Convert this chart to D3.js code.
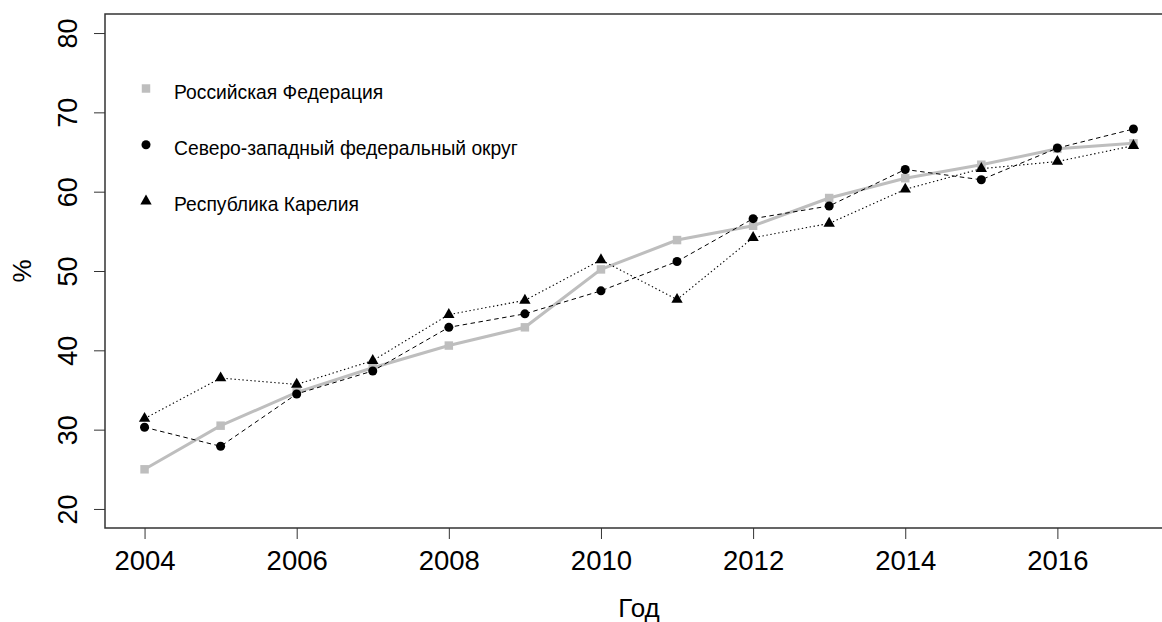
<!DOCTYPE html>
<html>
<head>
<meta charset="utf-8">
<script src="https://cdn.jsdelivr.net/npm/d3@7"></script>
<style>
  body { margin: 0; background: #fff; overflow: hidden; }
  svg { display: block; font-family: "Liberation Sans", Arial, sans-serif; }
</style>
</head>
<body>
<svg id="chart"></svg>
<script>
const years = [2004, 2005, 2006, 2007, 2008, 2009, 2010, 2011, 2012, 2013, 2014, 2015, 2016, 2017];
const russia = [25.0, 30.5, 34.7, 37.8, 40.6, 42.9, 50.2, 53.9, 55.7, 59.2, 61.7, 63.4, 65.4, 66.1];
const northWest = [30.3, 27.9, 34.5, 37.4, 42.9, 44.6, 47.5, 51.2, 56.6, 58.2, 62.8, 61.5, 65.5, 67.9];
const karelia = [31.4, 36.5, 35.7, 38.7, 44.5, 46.3, 51.4, 46.4, 54.2, 56.0, 60.3, 62.9, 63.8, 65.8];
const seriesNames = ["Российская Федерация", "Северо-западный федеральный округ", "Республика Карелия"];
const xTicks = [2004, 2006, 2008, 2010, 2012, 2014, 2016];
const yTicks = [20, 30, 40, 50, 60, 70, 80];

const width = 1162;
const height = 622;
const margin = {top: 14, right: -11, bottom: 94, left: 105};

const svg = d3.select("#chart")
    .attr("width", width)
    .attr("height", height);

// R pads the axis range by 4% on each side
const xScale = d3.scaleLinear()
    .domain([2004 - 13 * 0.04, 2017 + 13 * 0.04])
    .range([margin.left, width - margin.right]);
const yScale = d3.scaleLinear()
    .domain([20 - 60 * 0.04, 80 + 60 * 0.04])
    .range([height - margin.bottom, margin.top]);

const [x0, x1] = xScale.range();
const [yBottom, yTop] = yScale.range();

// frame (right side falls outside the picture)
svg.append("path")
    .attr("d", `M${x1 + 5},${yTop}H${x0}V${yBottom}H${x1 + 5}`)
    .attr("fill", "none")
    .attr("stroke", "#333")
    .attr("stroke-width", 1.5);

// x axis
const xAxis = svg.append("g")
    .attr("transform", `translate(0,${yBottom})`)
    .call(d3.axisBottom(xScale).tickValues(xTicks).tickFormat(d3.format("d")).tickSize(11));
xAxis.select(".domain").remove();
xAxis.selectAll(".tick line").attr("stroke", "#333");
xAxis.selectAll(".tick text")
    .attr("y", 42)
    .attr("dy", 0)
    .attr("fill", "#000")
    .style("font-size", "27.5px");

// y axis with rotated labels
const yAxis = svg.append("g")
    .attr("transform", `translate(${x0},0)`)
    .call(d3.axisLeft(yScale).tickValues(yTicks).tickSize(11));
yAxis.select(".domain").remove();
yAxis.selectAll(".tick line").attr("stroke", "#333");
yAxis.selectAll(".tick text")
    .attr("x", 0)
    .attr("dy", 0)
    .attr("text-anchor", "middle")
    .attr("transform", "translate(-28,0) rotate(-90)")
    .attr("fill", "#000")
    .style("font-size", "27px");

// axis titles
svg.append("text")
    .attr("x", (x0 + x1) / 2)
    .attr("y", 617)
    .attr("text-anchor", "middle")
    .style("font-size", "26px")
    .text("Год");
svg.append("text")
    .attr("transform", `translate(31,${(yBottom + yTop) / 2}) rotate(-90)`)
    .attr("text-anchor", "middle")
    .style("font-size", "26px")
    .text("%");

const line = d3.line()
    .x((d, i) => xScale(years[i]))
    .y(d => yScale(d));

const series = [
    {values: russia, color: "#bebebe", width: 3, dash: null, shape: d3.symbolSquare, size: 72},
    {values: northWest, color: "#000", width: 1, dash: "4.5,3.5", shape: d3.symbolCircle, size: 64},
    {values: karelia, color: "#000", width: 1.1, dash: "1.4,2.6", shape: d3.symbolTriangle, size: 56}
];

series.forEach(s => {
    svg.append("path")
        .datum(s.values)
        .attr("fill", "none")
        .attr("stroke", s.color)
        .attr("stroke-width", s.width)
        .attr("stroke-dasharray", s.dash)
        .attr("d", line);
    svg.append("g")
        .selectAll("path")
        .data(s.values)
        .join("path")
        .attr("transform", (d, i) => `translate(${xScale(years[i])},${yScale(d)})`)
        .attr("fill", s.color)
        .attr("d", d3.symbol(s.shape, s.size));
});

// legend
const legend = svg.append("g")
    .selectAll("g")
    .data(series)
    .join("g")
    .attr("transform", (d, i) => `translate(146,${88.5 + i * 56.3})`);
legend.append("path")
    .attr("fill", d => d.color)
    .attr("d", d => d3.symbol(d.shape, d.size)());
legend.append("text")
    .attr("x", 28)
    .attr("y", 10)
    .style("font-size", "19.3px")
    .text((d, i) => seriesNames[i]);
</script>
</body>
</html>
